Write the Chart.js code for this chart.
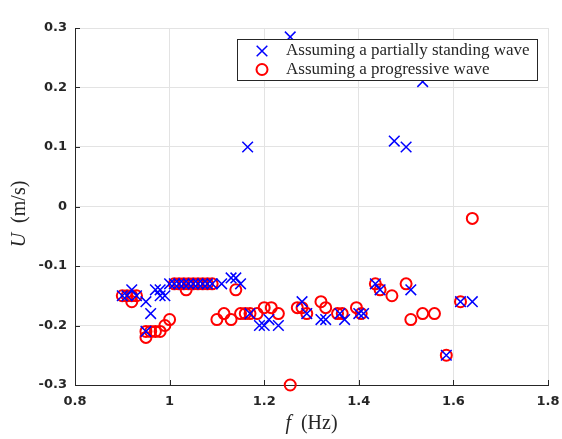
<!DOCTYPE html>
<html>
<head>
<meta charset="utf-8">
<script src="https://cdn.jsdelivr.net/npm/chart.js@4"></script>
<style>
  html, body { margin: 0; padding: 0; background: #fff; }
  #wrap { position: relative; width: 562px; height: 439px; }
</style>
</head>
<body>
<div id="wrap"><canvas id="chart" width="562" height="439"></canvas></div>
<script>
// Velocity amplitude U against frequency f, two reconstruction assumptions
const seriesNames = ['Assuming a partially standing wave', 'Assuming a progressive wave'];

const fStanding = [0.90, 0.91, 0.92, 0.93, 0.95, 0.95, 0.96, 0.97, 0.98, 0.98, 0.99,
  1.00, 1.01, 1.02, 1.03, 1.04, 1.05, 1.06, 1.07, 1.08, 1.09, 1.11, 1.13, 1.14, 1.15,
  1.165, 1.17, 1.19, 1.20, 1.21, 1.23, 1.255, 1.28, 1.29, 1.32, 1.33, 1.36, 1.37,
  1.40, 1.41, 1.435, 1.445, 1.475, 1.50, 1.51, 1.535, 1.585, 1.615, 1.64];
const uStanding = [-0.15, -0.15, -0.14, -0.15, -0.16, -0.21, -0.18, -0.14, -0.15, -0.14, -0.15,
  -0.13, -0.13, -0.13, -0.13, -0.13, -0.13, -0.13, -0.13, -0.13, -0.13, -0.13, -0.12, -0.12, -0.13,
  0.10, -0.18, -0.20, -0.20, -0.19, -0.20, 0.285, -0.16, -0.18, -0.19, -0.19, -0.18, -0.19,
  -0.18, -0.18, -0.13, -0.14, 0.11, 0.10, -0.14, 0.21, -0.25, -0.16, -0.16];

const fProgressive = [0.90, 0.91, 0.92, 0.92, 0.93, 0.95, 0.95, 0.96, 0.97, 0.98, 0.99, 1.00,
  1.01, 1.02, 1.03, 1.035, 1.04, 1.05, 1.06, 1.07, 1.08, 1.09, 1.10, 1.115, 1.13, 1.14,
  1.15, 1.16, 1.17, 1.185, 1.20, 1.215, 1.23, 1.255, 1.27, 1.28, 1.29, 1.32, 1.33,
  1.355, 1.365, 1.395, 1.405, 1.435, 1.445, 1.47, 1.50, 1.51, 1.535, 1.56, 1.585, 1.615, 1.64];
const uProgressive = [-0.15, -0.15, -0.15, -0.16, -0.15, -0.21, -0.22, -0.21, -0.21, -0.21, -0.20, -0.19,
  -0.13, -0.13, -0.13, -0.14, -0.13, -0.13, -0.13, -0.13, -0.13, -0.13, -0.19, -0.18, -0.19, -0.14,
  -0.18, -0.18, -0.18, -0.18, -0.17, -0.17, -0.18, -0.30, -0.17, -0.17, -0.18, -0.16, -0.17,
  -0.18, -0.18, -0.17, -0.18, -0.13, -0.14, -0.15, -0.13, -0.19, -0.18, -0.18, -0.25, -0.16, -0.02];

const xTicks = [0.8, 1.0, 1.2, 1.4, 1.6, 1.8];
const xTickLabels = ['0.8', '1', '1.2', '1.4', '1.6', '1.8'];
const yTicks = [-0.3, -0.2, -0.1, 0, 0.1, 0.2, 0.3];
const yTickLabels = ['-0.3', '-0.2', '-0.1', '0', '0.1', '0.2', '0.3'];

const AXIS = '#262626';
const GRID = '#e3e3e3';
const BLUE = '#0000ff';
const RED = '#ff0000';
const SERIF = '"Liberation Serif", "DejaVu Serif", serif';

const toPoints = (xs, ys) => xs.map((x, i) => ({ x, y: ys[i] }));

const markers = [
  { style: 'crossRot', radius: 7.5, color: BLUE, width: 1.5 },
  { style: 'circle', radius: 5.5, color: RED, width: 2 },
];

// ticks pointing into the plot, MATLAB style
const innerTicks = {
  id: 'innerTicks',
  beforeDatasetsDraw(chart) {
    const { ctx, chartArea: a, scales: { x, y } } = chart;
    ctx.save();
    ctx.strokeStyle = AXIS;
    ctx.lineWidth = 1;
    ctx.beginPath();
    xTicks.forEach(v => {
      const px = Math.round(x.getPixelForValue(v)) + 0.5;
      ctx.moveTo(px, a.bottom); ctx.lineTo(px, a.bottom - 5);
    });
    yTicks.forEach(v => {
      const py = Math.round(y.getPixelForValue(v)) + 0.5;
      ctx.moveTo(a.left, py); ctx.lineTo(a.left + 5, py);
    });
    ctx.stroke();
    ctx.restore();
  }
};

function drawMixed(ctx, parts, cx, cy, size) {
  // parts: [[text, italic], ...] centred on cx
  const widths = parts.map(([t, it]) => {
    ctx.font = (it ? 'italic ' : '') + size + 'px ' + SERIF;
    return ctx.measureText(t).width;
  });
  let x = cx - widths.reduce((s, w) => s + w, 0) / 2;
  ctx.textAlign = 'left';
  parts.forEach(([t, it], i) => {
    ctx.font = (it ? 'italic ' : '') + size + 'px ' + SERIF;
    ctx.fillText(t, x, cy);
    x += widths[i];
  });
}

// axis titles with italic symbols, plus the boxed legend
const labelsAndLegend = {
  id: 'labelsAndLegend',
  afterDraw(chart) {
    const { ctx, chartArea: a } = chart;
    ctx.save();
    ctx.fillStyle = AXIS;
    ctx.textBaseline = 'middle';

    drawMixed(ctx, [['f', true], ['  (Hz)', false]], (a.left + a.right) / 2, 424, 20);

    ctx.save();
    ctx.translate(20, 214);
    ctx.rotate(-Math.PI / 2);
    drawMixed(ctx, [['U', true], ['  (m/s)', false]], 0, 0, 20);
    ctx.restore();

    // legend box
    const box = { left: 237, top: 39.5, right: 537, bottom: 80.5 };
    ctx.fillStyle = '#fff';
    ctx.fillRect(box.left, box.top, box.right - box.left, box.bottom - box.top);
    ctx.strokeStyle = AXIS;
    ctx.lineWidth = 1;
    ctx.strokeRect(box.left + 0.5, box.top, box.right - box.left, box.bottom - box.top);
    const rows = [51, 69.5];
    seriesNames.forEach((name, i) => {
      const m = markers[i];
      ctx.strokeStyle = m.color;
      ctx.fillStyle = 'rgba(0,0,0,0)';
      ctx.lineWidth = m.width;
      Chart.helpers.drawPoint(ctx, { pointStyle: m.style, radius: m.radius, rotation: 0, borderWidth: m.width }, 262, rows[i]);
      ctx.fillStyle = AXIS;
      ctx.font = '17px ' + SERIF;
      ctx.textAlign = 'left';
      ctx.fillText(name, 286, rows[i]);
    });
    ctx.restore();
  }
};

new Chart(document.getElementById('chart'), {
  type: 'scatter',
  data: {
    datasets: seriesNames.map((name, i) => ({
      label: name,
      data: i === 0 ? toPoints(fStanding, uStanding) : toPoints(fProgressive, uProgressive),
      pointStyle: markers[i].style,
      pointRadius: markers[i].radius,
      borderColor: markers[i].color,
      backgroundColor: 'transparent',
      pointBorderWidth: markers[i].width,
      clip: false,
    })),
  },
  options: {
    responsive: false,
    animation: false,
    events: [],
    layout: { padding: { top: 28, right: 14, left: 0, bottom: 0 } },
    plugins: { legend: { display: false }, tooltip: { enabled: false } },
    scales: {
      x: {
        type: 'linear', min: 0.8, max: 1.8,
        afterBuildTicks: s => { s.ticks = xTicks.map(v => ({ value: v })); },
        afterFit: s => { s.height = 54; s.paddingLeft = 0; s.paddingRight = 0; },
        ticks: {
          callback: (v, i) => xTickLabels[i],
          color: AXIS, padding: 9, maxRotation: 0,
          font: { family: '"DejaVu Sans", sans-serif', size: 13, weight: 'bold' },
        },
        grid: { color: GRID, drawTicks: false },
        border: { color: AXIS, width: 1 },
      },
      y: {
        type: 'linear', min: -0.3, max: 0.3,
        afterBuildTicks: s => { s.ticks = yTicks.map(v => ({ value: v })); },
        afterFit: s => { s.width = 75; s.paddingTop = 0; s.paddingBottom = 0; },
        ticks: {
          callback: (v, i) => yTickLabels[i],
          color: AXIS, padding: 8,
          font: { family: '"DejaVu Sans", sans-serif', size: 13, weight: 'bold' },
        },
        grid: { color: GRID, drawTicks: false },
        border: { color: AXIS, width: 1 },
      },
    },
  },
  plugins: [innerTicks, labelsAndLegend],
});
</script>
</body>
</html>
